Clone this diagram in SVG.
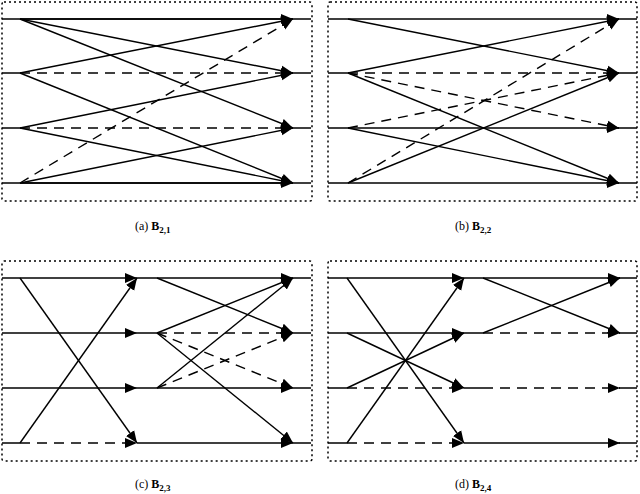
<svg xmlns="http://www.w3.org/2000/svg" width="640" height="494" viewBox="0 0 640 494">
<style>
.box{fill:none;stroke:#000;stroke-width:1.5;stroke-dasharray:2 3}
.s{fill:none;stroke:#000;stroke-width:1.4;marker-end:url(#ah)}
.d{fill:none;stroke:#000;stroke-width:1.4;stroke-dasharray:10 7;marker-end:url(#ah)}
.p{fill:none;stroke:#000;stroke-width:1.4}
.cap{font-family:"Liberation Serif",serif;font-size:12px;fill:#000}
.b{font-weight:bold}
</style>
<defs>
<marker id="ah" markerUnits="userSpaceOnUse" markerWidth="14" markerHeight="12" refX="12" refY="5" orient="auto" viewBox="0 0 14 10">
<path d="M0,0 L12,5 L0,10 Z" fill="#000"/>
</marker>
</defs>
<g id="frames">
<rect class="box" x="2" y="2" width="310" height="199" rx="2"/>
<rect class="box" x="328" y="2" width="309" height="199" rx="2"/>
<rect class="box" x="2" y="261" width="310" height="200" rx="2"/>
<rect class="box" x="328" y="261" width="309" height="200" rx="2"/>
</g>
<g id="connectors">
<!-- (a) -->
<path class="p" d="M2 19H293M2 73H20M2 128H20M2 183H293M293 19H311M293 73H311M293 128H311M293 183H311"/>
<path class="s" d="M20 19H293"/>
<path class="s" d="M20 183H293"/>
<path class="d" d="M20 73H293"/>
<path class="d" d="M20 128H293"/>
<path class="s" d="M20 19L293 73"/>
<path class="s" d="M20 19L293 128"/>
<path class="s" d="M20 73L293 19"/>
<path class="s" d="M20 73L293 183"/>
<path class="s" d="M20 128L293 73"/>
<path class="s" d="M20 128L293 183"/>
<path class="s" d="M20 183L293 128"/>
<path class="d" d="M20 183L293 19"/>
<!-- (b) -->
<path class="p" d="M328 19H348M328 73H348M328 128H348M328 183H348M618 19H637M618 73H637M618 128H637M618 183H637"/>
<path class="s" d="M348 19H619"/>
<path class="d" d="M348 73H619"/>
<path class="s" d="M348 128H619"/>
<path class="s" d="M348 183H619"/>
<path class="s" d="M348 19L619 73"/>
<path class="s" d="M348 73L619 19"/>
<path class="d" d="M348 73L619 128"/>
<path class="s" d="M348 73L619 183"/>
<path class="d" d="M348 128L619 73"/>
<path class="s" d="M348 128L619 183"/>
<path class="s" d="M348 183L619 73"/>
<path class="d" d="M348 183L619 19"/>
<!-- (c) -->
<path class="p" d="M2 443H20M137 278H157M137 333H157M137 388H157M137 443H157M293 278H311M293 333H311M293 388H311M293 443H311"/>
<path class="s" d="M2 278H137"/>
<path class="s" d="M2 333H137"/>
<path class="s" d="M2 388H137"/>
<path class="d" d="M20 443H137"/>
<path class="s" d="M20 278L137 443"/>
<path class="s" d="M20 443L137 278"/>
<path class="s" d="M157 278H293"/>
<path class="d" d="M157 333H293"/>
<path class="s" d="M157 388H293"/>
<path class="s" d="M157 443H293"/>
<path class="s" d="M157 278L293 333"/>
<path class="s" d="M157 333L293 278"/>
<path class="d" d="M157 333L293 388"/>
<path class="s" d="M157 333L293 443"/>
<path class="s" d="M157 388L293 278"/>
<path class="d" d="M157 388L293 333"/>
<!-- (d) -->
<path class="p" d="M328 388H347M328 443H347M464 278H483M464 333H483M464 388H483M619 278H637M619 333H637M619 388H637M619 443H637"/>
<path class="s" d="M328 278H464"/>
<path class="s" d="M328 333H464"/>
<path class="d" d="M347 388H464"/>
<path class="d" d="M347 443H464"/>
<path class="s" d="M347 278L464 443"/>
<path class="s" d="M347 333L464 388"/>
<path class="s" d="M347 388L464 333"/>
<path class="s" d="M347 443L464 278"/>
<path class="s" d="M483 278H620"/>
<path class="d" d="M483 333H620"/>
<path class="d" d="M483 388H620"/>
<path class="s" d="M464 443H620"/>
<path class="s" d="M483 278L620 333"/>
<path class="s" d="M483 333L620 278"/>
</g>
<g id="captions">
<text class="cap" x="135" y="230">(a) <tspan class="b">B</tspan><tspan font-size="9" class="b" dy="3">2,1</tspan></text>
<text class="cap" x="455" y="230">(b) <tspan class="b">B</tspan><tspan font-size="9" class="b" dy="3">2,2</tspan></text>
<text class="cap" x="135" y="488">(c) <tspan class="b">B</tspan><tspan font-size="9" class="b" dy="3">2,3</tspan></text>
<text class="cap" x="455" y="488">(d) <tspan class="b">B</tspan><tspan font-size="9" class="b" dy="3">2,4</tspan></text>
</g>
</svg>
